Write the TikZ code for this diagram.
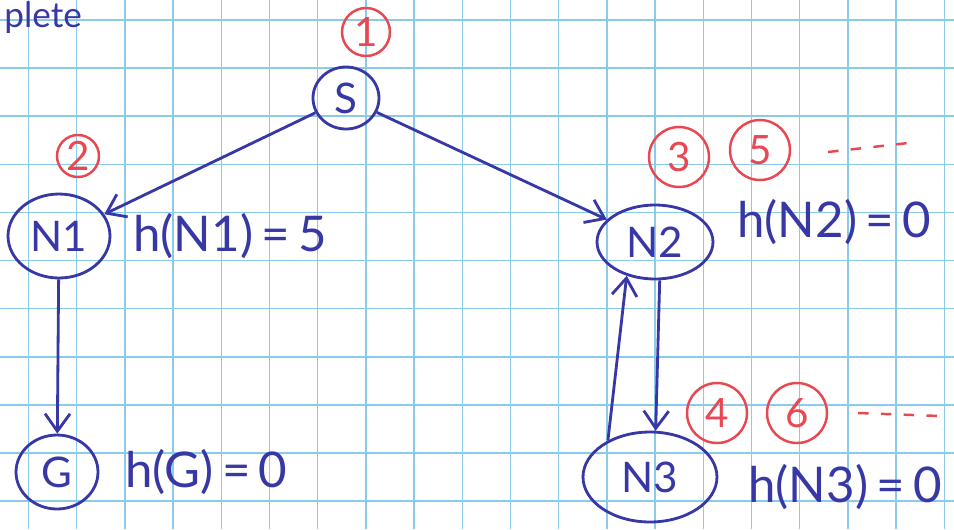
\documentclass[tikz,border=0pt]{standalone}
\usepackage{fontspec}
\setmainfont{Lato}
\usetikzlibrary{shapes.geometric,arrows.meta}
\definecolor{ink}{RGB}{55,55,165}
\definecolor{redink}{RGB}{232,72,82}
\definecolor{gridblue}{RGB}{140,202,236}
\tikzset{
  state/.style={draw=ink, line width=1.6pt, ellipse, inner sep=0pt, text=ink, font=\fontsize{24}{26}\selectfont},
  order/.style={draw=redink, line width=1.4pt, circle, inner sep=0pt, minimum size=1.2cm, text=redink, font=\fontsize{23}{25}\selectfont},
  hval/.style={text=ink, anchor=west, inner sep=0pt, font=\fontsize{28}{30}\selectfont},
  edge/.style={draw=ink, line width=1.6pt, -{Straight Barb[length=3.5mm,width=5mm]}},
  more/.style={draw=redink, line width=1.4pt, dash pattern=on 6pt off 7pt},
}
\begin{document}
\begin{tikzpicture}[x=0.02cm, y=-0.02cm]
    \useasboundingbox (0,0) rectangle (954,529);
    \clip (0,0) rectangle (954,529);
    % squared paper
    \foreach \x in {0,...,19}
      \draw[gridblue, line width=0.9pt] ({28.5+48.2*\x},0) -- ({28.5+48.2*\x},529);
    \foreach \y in {0,...,10}
      \draw[gridblue, line width=0.9pt] (0,{20+48.1*\y}) -- (954,{20+48.1*\y});
    \node[text=ink, anchor=base west, inner sep=0pt, font=\fontsize{20}{22}\selectfont] (title) at (4,27) {plete};
    % states
    \node[state, minimum width=1.32cm, minimum height=1.24cm] (S) at (346,98) {S};
    \node[state, minimum width=2.04cm, minimum height=1.68cm] (N1) at (59,236) {N1};
    \node[state, minimum width=1.64cm, minimum height=1.48cm] (G) at (57,472) {G};
    \node[state, minimum width=2.32cm, minimum height=1.48cm] (N2) at (655,242) {N2};
    \node[state, minimum width=2.68cm, minimum height=1.8cm] (N3) at (650,477) {N3};
    % heuristic values
    \node[hval] (hN1) at (133,236) {h(N1)\,=\,5};
    \node[hval] (hN2) at (737,222) {h(N2)\,=\,0};
    \node[hval] (hG) at (125,472) {h(G)\,=\,0};
    \node[hval] (hN3) at (748,487) {h(N3)\,=\,0};
    % edges
    \draw[edge] (S) -- (N1);
    \draw[edge] (S) -- (N2);
    \draw[edge] (N1) -- (G);
    \draw[edge] (N2.277) -- (N3.83);
    \draw[edge] (N3.139) -- (N2.230);
    % order of expansion
    \node[order, minimum size=0.96cm] (o1) at (366,32) {1};
    \node[order, minimum size=0.84cm] (o2) at (78,156) {2};
    \node[order] (o3) at (679,157) {3};
    \node[order] (o5) at (760,150) {5};
    \node[order] (o4) at (717,413) {4};
    \node[order] (o6) at (797,413) {6};
    \draw[more] (828,152) -- (908,143);
    \draw[more] (858,413) -- (940,416);
\end{tikzpicture}
\end{document}
